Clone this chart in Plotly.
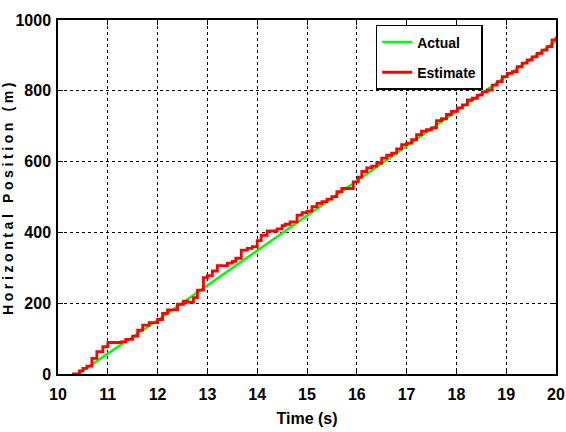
import plotly.graph_objects as go

# Actual trajectory
t_actual = [10.4, 11.0, 12.0, 13.0, 14.0, 15.0, 16.0, 17.0, 18.0, 19.0, 20.0]
x_actual = [0, 58, 152, 250, 348, 446, 545, 643, 742, 841, 940]

# Estimate (staircase)
t_est = [10.28, 10.43, 10.50, 10.58, 10.68, 10.78, 10.90, 11.00, 11.26, 11.36,
         11.50, 11.60, 11.70, 11.83, 12.00, 12.10, 12.20, 12.40, 12.52, 12.60,
         12.72, 12.80, 12.92, 13.00, 13.10, 13.20, 13.40, 13.50, 13.57, 13.68,
         13.80, 13.90, 14.00, 14.08, 14.20, 14.40, 14.50, 14.56, 14.66, 14.80,
         14.90, 15.00, 15.10, 15.20, 15.30, 15.40, 15.50, 15.60, 15.70, 15.93,
         16.03, 16.10, 16.20, 16.30, 16.40, 16.50, 16.60, 16.70, 16.80, 16.90,
         17.00, 17.10, 17.20, 17.30, 17.40, 17.50, 17.60, 17.70, 17.80, 17.90,
         18.02, 18.12, 18.22, 18.32, 18.42, 18.52, 18.62, 18.72, 18.82, 18.92,
         19.02, 19.12, 19.22, 19.32, 19.42, 19.52, 19.62, 19.72, 19.82, 19.92,
         20.00]
x_est = [0, 9, 16, 22, 44, 63, 77, 89, 91, 98,
         107, 124, 138, 145, 154, 171, 181, 197, 206, 203,
         216, 237, 272, 278, 291, 306, 313, 318, 327, 350,
         355, 360, 377, 392, 404, 410, 419, 423, 430, 449,
         456, 460, 473, 482, 487, 494, 501, 515, 524, 543,
         556, 572, 582, 587, 596, 610, 618, 624, 636, 648,
         652, 662, 676, 686, 690, 695, 716, 721, 733, 742,
         752, 760, 774, 779, 788, 797, 802, 816, 826, 840,
         849, 854, 868, 878, 887, 896, 906, 915, 925, 944,
         953]

x_ticks = list(range(10, 21))
y_ticks = [0, 200, 400, 600, 800, 1000]

FONT = "Liberation Sans, Arial, sans-serif"

fig = go.Figure()
fig.add_trace(go.Scatter(x=t_actual, y=x_actual, mode="lines", name="Actual",
                         legendgroup="a",
                         line=dict(color="#00ff00", width=2.5)))
fig.add_trace(go.Scatter(x=t_est, y=x_est, mode="lines", name="Estimate",
                         legendgroup="b",
                         line=dict(color="#ff0000", width=2.8, shape="hv")))

axis_common = dict(showline=True, linecolor="black", linewidth=1.5, mirror="ticks",
                   ticks="inside", ticklen=5, tickwidth=1, tickcolor="black",
                   showgrid=True, gridcolor="black", gridwidth=1, griddash="dot",
                   zeroline=False, automargin=False, ticklabeloverflow="allow",
                   tickfont=dict(family=FONT, size=16, color="black", weight="bold"))

fig.update_layout(
    width=566, height=432,
    margin=dict(l=58, r=10, t=20, b=58),
    plot_bgcolor="white", paper_bgcolor="white",
    xaxis=dict(range=[10, 20], tickvals=x_ticks, ticktext=[str(v) for v in x_ticks],
               ticklabelstandoff=5,
               title=dict(text="Time (s)", standoff=11,
                          font=dict(family=FONT, size=16, color="black", weight="bold")),
               **axis_common),
    yaxis=dict(range=[0, 1000], tickvals=y_ticks, ticktext=[str(v) for v in y_ticks],
               ticklabelstandoff=2,
               title=dict(text='<span style="letter-spacing:3.6px">Horizontal Position (m)</span>',
                          standoff=0,
                          font=dict(family=FONT, size=14, color="black", weight="bold")),
               **axis_common),
    legend=dict(x=0.638, y=0.986, xanchor="left", yanchor="top",
                bgcolor="white", bordercolor="black", borderwidth=1.5,
                font=dict(family=FONT, size=14, color="black", weight="bold"),
                tracegroupgap=9),
    showlegend=True,
)

fig.write_html("out.html", config={"displayModeBar": False},
               post_script="document.body.style.margin='0px';")
